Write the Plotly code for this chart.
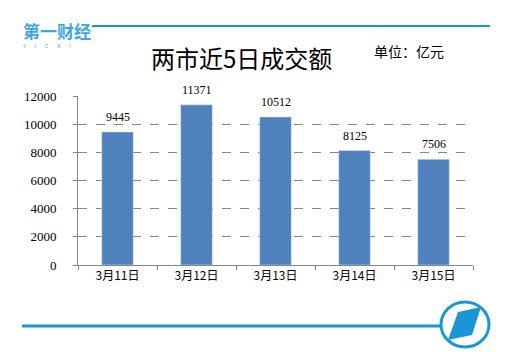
import plotly.graph_objects as go

categories = ["3月11日", "3月12日", "3月13日", "3月14日", "3月15日"]
values = [9445, 11371, 10512, 8125, 7506]
y_ticks = [0, 2000, 4000, 6000, 8000, 10000, 12000]

W, H = 517, 363
L, R, T, B = 78, 44, 96, 98
PW, PH = W - L - R, H - T - B

def px(x):
    return (x - L) / PW

def py(y):
    return (H - B - y) / PH

BLUE = "#1A96D6"

fig = go.Figure()
fig.add_trace(go.Bar(
    x=categories, y=values, marker_color="#4F81BD", width=0.4, hoverinfo="skip",
))

shapes = [
    dict(type="line", xref="paper", yref="paper", x0=px(92), x1=px(490), y0=py(26), y1=py(26),
         line=dict(color=BLUE, width=2)),
    dict(type="line", xref="paper", yref="paper", x0=px(22), x1=px(440), y0=py(326), y1=py(326),
         line=dict(color=BLUE, width=3)),
    dict(type="circle", xref="paper", yref="paper", x0=px(441), x1=px(489), y0=py(302), y1=py(347),
         line=dict(color=BLUE, width=3), fillcolor="white"),
    dict(type="path", xref="paper", yref="paper",
         path="M {} {} L {} {} L {} {} L {} {} Z".format(px(458), py(312), px(481), py(307),
                                                       px(472), py(335), px(448), py(340)),
         fillcolor=BLUE, line=dict(width=0)),
]

annotations = [
    dict(text="两市近5日成交额", xref="paper", yref="paper", x=px(241), y=py(58),
         showarrow=False, font=dict(family="Noto Sans CJK SC", size=24, color="#000000"),
         xanchor="center", yanchor="middle"),
    dict(text="单位：亿元", xref="paper", yref="paper", x=px(372), y=py(51),
         showarrow=False, font=dict(family="Noto Sans CJK SC", size=14, color="#000000"),
         xanchor="left", yanchor="middle"),
    dict(text="<span style='font-size:17px'><b>第一财经</b></span><br><span style='font-size:5px'>Y        I        C        A        I</span>",
         xref="paper", yref="paper", x=px(20), y=py(33), align="left",
         showarrow=False, font=dict(family="Noto Sans CJK SC", size=8, color="#3FA6DC"),
         xanchor="left", yanchor="middle"),
]
for c, v in zip(categories, values):
    annotations.append(dict(
        x=c, y=v, xref="x", yref="y", text=str(v), showarrow=False,
        yanchor="bottom", yshift=6,
        font=dict(family="Liberation Serif", size=12, color="#000000"),
    ))

fig.update_layout(
    width=W, height=H,
    margin=dict(l=L, r=R, t=T, b=B),
    paper_bgcolor="white", plot_bgcolor="white",
    showlegend=False, shapes=shapes, annotations=annotations,
    hovermode=False,
)
fig.update_xaxes(
    showline=True, linecolor="#868686", linewidth=1,
    ticks="outside", tickson="boundaries", ticklen=4, tickcolor="#868686",
    tickfont=dict(family="Noto Sans CJK SC", size=12, color="#000000"),
    showgrid=False,
)
fig.update_yaxes(
    range=[0, 12000], tickvals=y_ticks, ticktext=[str(v) for v in y_ticks],
    showline=True, linecolor="#868686", linewidth=1,
    ticks="outside", ticklen=4, tickcolor="#868686",
    tickfont=dict(family="Liberation Serif", size=13, color="#000000"),
    showgrid=True, gridcolor="#868686", griddash="dash", gridwidth=1,
    ticklabelstandoff=14, zeroline=False,
)

fig.write_html("out.html", config={"displayModeBar": False},
               post_script="document.body.style.margin='0';document.body.style.padding='0';")
